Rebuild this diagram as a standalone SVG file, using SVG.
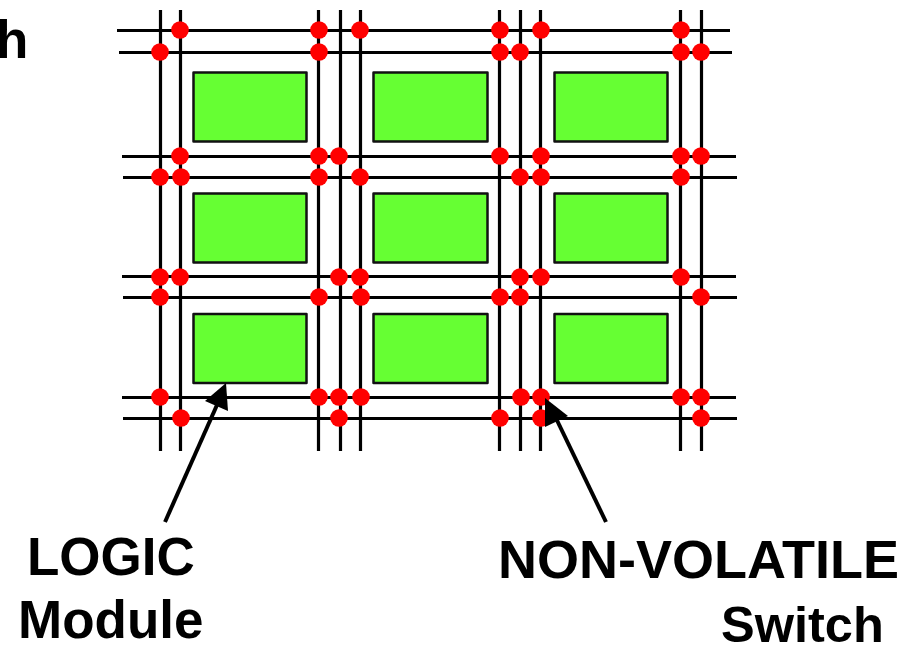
<svg xmlns="http://www.w3.org/2000/svg" width="915" height="645" viewBox="0 0 915 645">
<style>
.w{stroke:#000;stroke-width:3.200;fill:none}
.m{fill:#66ff33;stroke:#111;stroke-width:2.500;stroke-linejoin:round}
.s{fill:#ff0000}
.s circle{r:8.800px}
.t{font-family:"Liberation Sans",Arial,sans-serif;font-weight:700;font-size:53px;fill:#000}
.a{stroke:#000;stroke-width:4;fill:none}
.h{fill:#000}
</style>
<rect width="915" height="645" fill="#fff"/>
<g id="connectors">
<g id="verticals" class="w">
<path d="M160.500 10V451M180.500 10V451M318.500 10V451M340.500 10V451M360.500 10V451M499.500 10V451M520.500 10V451M540.500 10V451M680.500 10V451M701.500 10V451"/>
</g>
<g id="horizontals" class="w">
<path d="M117 30.500H730M119 52.500H732M122 156.500H736M123 177.500H737M122 276.500H736M123 297.500H737M122 397.500H736M123 418.500H737"/>
</g>
</g>
<g id="logic-modules">
<g id="m1"><rect class="m" x="193.500" y="72.500" width="113" height="69"/></g>
<g id="m2"><rect class="m" x="373.500" y="72.500" width="114" height="69"/></g>
<g id="m3"><rect class="m" x="554.500" y="72.500" width="113" height="69"/></g>
<g id="m4"><rect class="m" x="193.500" y="193.500" width="113" height="69"/></g>
<g id="m5"><rect class="m" x="373.500" y="193.500" width="114" height="69"/></g>
<g id="m6"><rect class="m" x="554.500" y="193.500" width="113" height="69"/></g>
<g id="m7"><rect class="m" x="193.500" y="314" width="113" height="69"/></g>
<g id="m8"><rect class="m" x="373.500" y="314" width="114" height="69"/></g>
<g id="m9"><rect class="m" x="554.500" y="314" width="113" height="69"/></g>
</g>
<g id="switches" class="s">
<circle cx="180" cy="30"/><circle cx="319" cy="30"/><circle cx="360" cy="30"/><circle cx="500" cy="30"/><circle cx="541" cy="30"/><circle cx="681" cy="30"/>
<circle cx="160" cy="52"/><circle cx="319" cy="52"/><circle cx="500" cy="52"/><circle cx="520" cy="52"/><circle cx="681" cy="52"/><circle cx="701" cy="52"/>
<circle cx="180" cy="156"/><circle cx="319" cy="156"/><circle cx="339" cy="156"/><circle cx="500" cy="156"/><circle cx="541" cy="156"/><circle cx="681" cy="156"/><circle cx="701" cy="156"/>
<circle cx="160" cy="177"/><circle cx="181" cy="177"/><circle cx="319" cy="177"/><circle cx="360" cy="177"/><circle cx="520" cy="177"/><circle cx="541" cy="177"/><circle cx="681" cy="177"/>
<circle cx="160" cy="277"/><circle cx="180" cy="277"/><circle cx="339" cy="277"/><circle cx="360" cy="277"/><circle cx="520" cy="277"/><circle cx="541" cy="277"/><circle cx="681" cy="277"/>
<circle cx="160" cy="297"/><circle cx="319" cy="297"/><circle cx="361" cy="297"/><circle cx="500" cy="297"/><circle cx="520" cy="297"/><circle cx="701" cy="297"/>
<circle cx="160" cy="397"/><circle cx="319" cy="397"/><circle cx="339" cy="397"/><circle cx="361" cy="397"/><circle cx="521" cy="397"/><circle cx="541" cy="397"/><circle cx="681" cy="397"/><circle cx="701" cy="397"/>
<circle cx="181" cy="418"/><circle cx="339" cy="418"/><circle cx="500" cy="418"/><circle cx="541" cy="418"/><circle cx="701" cy="418"/>
</g>
<g id="arrows">
<path class="a" d="M165 522L217 405"/>
<polygon class="h" points="226,383 228,411 205,401"/>
<path class="a" d="M606 522L553 412"/>
<polygon class="h" points="545,398 568,416 545,427"/>
</g>
<g id="labels">
<text class="t" x="-4" y="58">h</text>
<text class="t" x="27" y="575">LOGIC</text>
<text class="t" x="18" y="638">Module</text>
<text class="t" x="498" y="578" style="font-size:54px">NON-VOLATILE</text>
<text class="t" x="721" y="642" style="font-size:50.500px">Switch</text>
</g>
</svg>
